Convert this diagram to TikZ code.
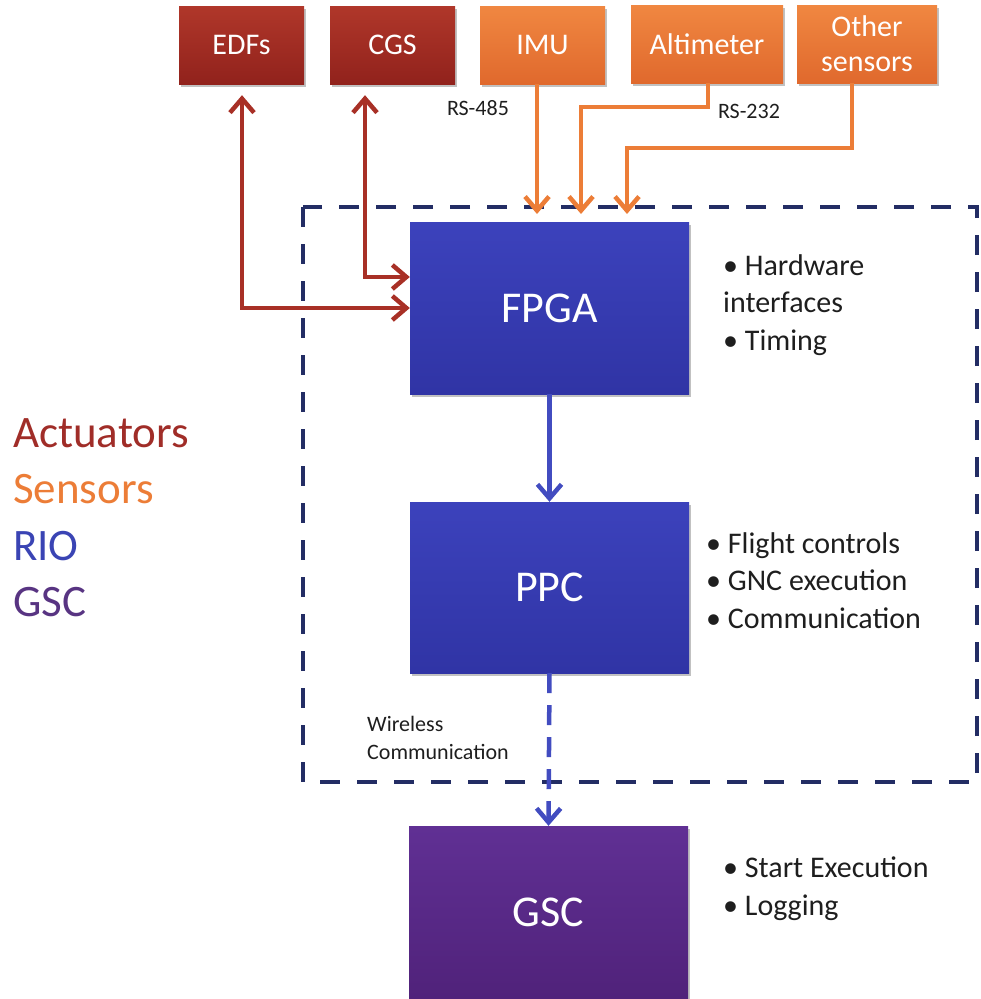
\documentclass[tikz,border=0pt]{standalone}
\usepackage{fontspec}
\setmainfont{Carlito}
\usetikzlibrary{arrows.meta,shadows}

\definecolor{actTop}{RGB}{176,55,42}
\definecolor{actBot}{RGB}{145,34,28}
\definecolor{senTop}{RGB}{240,135,65}
\definecolor{senBot}{RGB}{224,105,45}
\definecolor{rioTop}{RGB}{60,66,188}
\definecolor{rioBot}{RGB}{48,52,165}
\definecolor{gscTop}{RGB}{96,48,148}
\definecolor{gscBot}{RGB}{80,34,122}
\definecolor{actLine}{RGB}{168,48,38}
\definecolor{senLine}{RGB}{236,125,55}
\definecolor{rioLine}{RGB}{66,76,192}
\definecolor{frameCol}{RGB}{35,45,100}
\definecolor{inkCol}{RGB}{30,30,30}
\definecolor{legAct}{RGB}{160,45,40}
\definecolor{legSen}{RGB}{236,125,55}
\definecolor{legRio}{RGB}{58,68,180}
\definecolor{legGsc}{RGB}{88,52,130}

\tikzset{
  unitbox/.style={rectangle, inner sep=0pt, text=white, align=center,
    drop shadow={shadow xshift=1.5pt, shadow yshift=-2.5pt, opacity=0.35, fill=black!70}},
  actbox/.style={unitbox, top color=actTop, bottom color=actBot,
    minimum width=125pt, minimum height=78pt, font=\fontsize{30}{36}\selectfont},
  senbox/.style={unitbox, top color=senTop, bottom color=senBot,
    minimum height=78pt, font=\fontsize{30}{36}\selectfont},
  riobox/.style={unitbox, top color=rioTop, bottom color=rioBot,
    minimum width=279pt, font=\fontsize{44}{52}\selectfont},
  gscbox/.style={unitbox, top color=gscTop, bottom color=gscBot,
    minimum width=279pt, font=\fontsize{44}{52}\selectfont},
  barb/.tip={Straight Barb[length=14pt,width=24pt]},
  actlink/.style={line width=4.5pt, color=actLine, barb-barb, shorten <=11pt},
  senlink/.style={line width=4.5pt, color=senLine, -barb, shorten >=8pt},
  riolink/.style={line width=4.5pt, color=rioLine, -barb},
  wireless/.style={riolink, dash pattern=on 20pt off 12pt},
  frame/.style={line width=3.5pt, color=frameCol, dash pattern=on 20pt off 17pt},
  bullets/.style={anchor=north west, align=left, text=inkCol, inner sep=0pt,
    font=\fontsize{30}{37.5}\selectfont},
  tag/.style={text=inkCol, inner sep=0pt, font=\fontsize{22}{28}\selectfont},
  legend/.style={anchor=base west, inner sep=0pt, font=\fontsize{45}{54}\selectfont}
}

\begin{document}
\begin{tikzpicture}[x=1pt, y=-1pt]
\useasboundingbox (0,0) rectangle (981,999);

% actuators and sensors along the top
\node[actbox] (edf) at (241.5,45) {EDFs};
\node[actbox] (cgs) at (392.5,45) {CGS};
\node[senbox, minimum width=125pt] (imu) at (542.5,45) {IMU};
\node[senbox, minimum width=152pt] (alt) at (707,44) {Altimeter};
\node[senbox, minimum width=140pt] (oth) at (867,44) {Other\\[-1pt]sensors};

% RIO frame
\draw[frame] (303,207) rectangle (977,782);

% processing units
\node[riobox, minimum height=172pt] (fpga) at (549.5,308) {FPGA};
\node[riobox, minimum height=171pt] (ppc) at (549.5,587.5) {PPC};
\node[gscbox, minimum height=173pt] (gsc) at (548.5,912.5) {GSC};

% connection points
\coordinate (edfIn) at (fpga.west |- 0,308);
\coordinate (cgsIn) at (fpga.west |- 0,277);
\coordinate (imuIn) at (537,222);
\coordinate (altIn) at (581,222);
\coordinate (othIn) at (627,222);

% actuator links (bidirectional)
\draw[actlink] (edf.south -| 242,0) |- (edfIn);
\draw[actlink] (cgs.south -| 365,0) |- (cgsIn);

% sensor links
\draw[senlink] (imu.south -| 537,0) -- (imuIn);
\draw[senlink] (alt.south -| 708,0) -- (708,107) -- (581,107) -- (altIn);
\draw[senlink] (oth.south -| 852,0) -- (852,148) -- (627,148) -- (othIn);

\node[tag] (rs485) at (478,108) {RS-485};
\node[tag] (rs232) at (749,111) {RS-232};

% internal and wireless links
\draw[riolink] (fpga.south) -- (ppc.north);
\draw[wireless] (ppc.south) -- (gsc.north);
\node[tag, anchor=north west, align=left] (wl) at (367,716) {Wireless\\Communication};

% task lists
\node[bullets] (fpgaNotes) at (723,254) {\textbullet\ Hardware\\interfaces\\\textbullet\ Timing};
\node[bullets] (ppcNotes) at (706,532) {\textbullet\ Flight controls\\\textbullet\ GNC execution\\\textbullet\ Communication};
\node[bullets] (gscNotes) at (723,857) {\textbullet\ Start Execution\\\textbullet\ Logging};

% colour legend
\node[legend, text=legAct] (lAct) at (13,447) {Actuators};
\node[legend, text=legSen] (lSen) at (13,503) {Sensors};
\node[legend, text=legRio] (lRio) at (13,560) {RIO};
\node[legend, text=legGsc] (lGsc) at (13,616) {GSC};
\end{tikzpicture}
\end{document}
